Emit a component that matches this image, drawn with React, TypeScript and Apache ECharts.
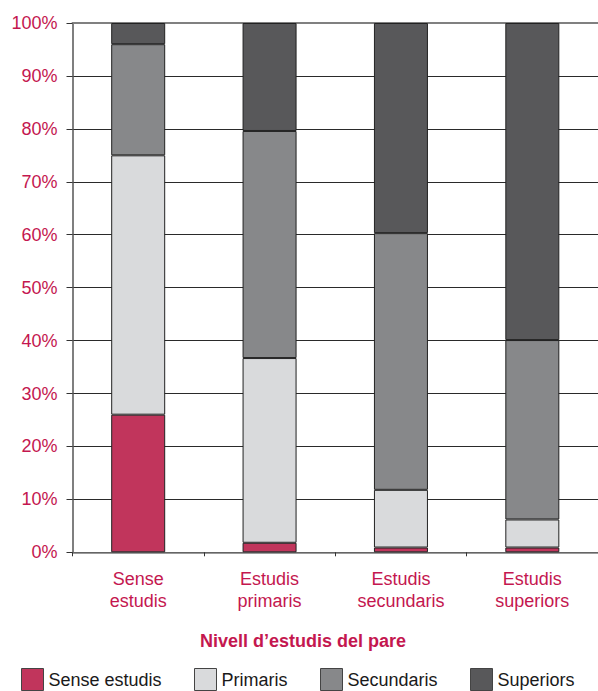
import React, { useEffect, useRef } from "react";
import * as echarts from "echarts";

const categories = ["Sense\nestudis", "Estudis\nprimaris", "Estudis\nsecundaris", "Estudis\nsuperiors"];
const seriesNames = ["Sense estudis", "Primaris", "Secundaris", "Superiors"];
const senseEstudis = [26, 1.8, 0.9, 0.9];
const primaris = [49, 34.9, 10.9, 5.3];
const secundaris = [21, 42.9, 48.5, 33.9];
const superiors = [4, 20.4, 39.7, 59.9];
const yTicks = [0, 10, 20, 30, 40, 50, 60, 70, 80, 90, 100];
const axisTitle = "Nivell d’estudis del pare";

const CRIMSON = "#C4174F";
const COLORS = ["#C1355C", "#D9DADC", "#87888A", "#58585A"];
const LEGEND_LEFT = [21, 194, 320, 470];

export default function App() {
  const ref = useRef<HTMLDivElement>(null);
  useEffect(() => {
    if (!ref.current) return;
    const chart = echarts.init(ref.current, null, { renderer: "svg" });
    const values = [senseEstudis, primaris, secundaris, superiors];
    chart.setOption({
      animation: false,
      textStyle: { fontFamily: "'Liberation Sans', Arial, sans-serif" },
      grid: { left: 72.5, right: -2, top: 23, bottom: 138.7, containLabel: false },
      legend: seriesNames.map((n, i) => ({
        data: [n],
        left: LEGEND_LEFT[i],
        top: 668,
        padding: 0,
        itemWidth: 22,
        itemHeight: 22,
        icon: "rect",
        itemStyle: { borderColor: "#444", borderWidth: 1 },
        textStyle: { fontSize: 18, color: "#1a1a1a" },
        selectedMode: false,
      })),
      graphic: [
        {
          type: "text",
          x: 303,
          y: 641,
          style: {
            text: axisTitle,
            fill: CRIMSON,
            font: "bold 18px 'Liberation Sans', Arial, sans-serif",
            textAlign: "center",
            textVerticalAlign: "middle",
          },
        },
      ],
      xAxis: [
        {
          type: "category",
          data: categories,
          boundaryGap: true,
          axisLine: { lineStyle: { color: "#7a7a7a", width: 1.5 } },
          axisTick: { show: true, length: 4, lineStyle: { color: "#333" } },
          axisLabel: {
            fontSize: 18,
            color: CRIMSON,
            lineHeight: 22,
            margin: 16,
            interval: 0,
          },
        },
        {
          type: "category",
          data: categories,
          position: "top",
          axisLine: { show: true, lineStyle: { color: "#808080", width: 2 } },
          axisTick: { show: false },
          axisLabel: { show: false },
        },
      ],
      yAxis: {
        type: "value",
        min: yTicks[0],
        max: yTicks[yTicks.length - 1],
        interval: 10,
        axisLine: { show: true, lineStyle: { color: "#555", width: 1.5 } },
        axisTick: { show: true, length: 6, lineStyle: { color: "#333" } },
        axisLabel: { fontSize: 18, color: CRIMSON, margin: 15, formatter: "{value}%" },
        splitLine: { show: true, lineStyle: { color: "#2a2a2a", width: 1 } },
      },
      series: seriesNames.map((n, i) => ({
        name: n,
        type: "bar",
        stack: "total",
        barWidth: 54,
        data: values[i],
        itemStyle: { color: COLORS[i], borderColor: "#222", borderWidth: 1 },
      })),
    });
    return () => chart.dispose();
  }, []);
  return (
    <div
      ref={ref}
      style={{ position: "absolute", left: 0, top: 0, width: 598, height: 691 }}
    />
  );
}
